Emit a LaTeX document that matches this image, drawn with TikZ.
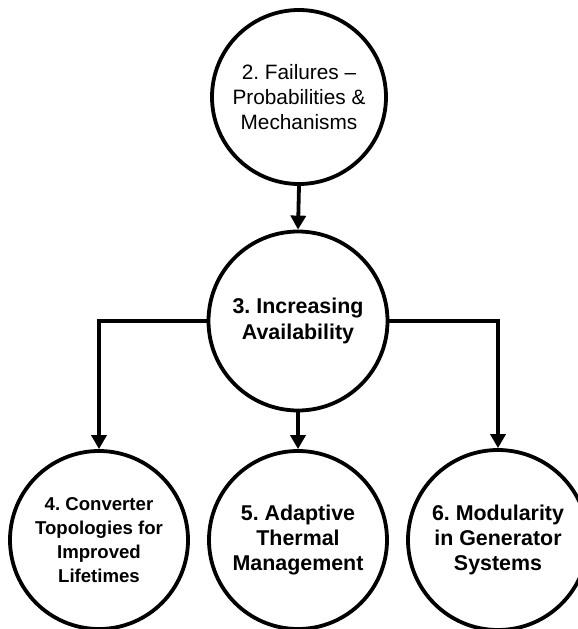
\documentclass[tikz,border=0pt]{standalone}
\usepackage{fontspec}
\setmainfont{Liberation Sans}
\usetikzlibrary{arrows.meta}
\frenchspacing

\tikzset{
  topic/.style={circle, draw=black, line width=3.8pt, fill=white,
    minimum size=#1, inner sep=0pt, align=center, text=black},
  topic/.default=176pt,
  link/.style={line width=3.8pt, draw=black,
    -{Triangle[width=15pt,length=14pt]}}
}

\begin{document}
\begin{tikzpicture}[x=1pt, y=-1pt]
  \clip (0,0) rectangle (578,629);
  \useasboundingbox (0,0) rectangle (578,629);

  % top topic
  \node[topic=174pt, font=\fontsize{20.8}{25}\selectfont] (c2) at (299,97)
    {2. Failures –\\Probabilities \&\\Mechanisms};

  % central topic
  \node[topic=179pt, font=\bfseries\fontsize{21.4}{26.5}\selectfont] (c3) at (298,321)
    {3. Increasing\\Availability};

  % bottom row
  \node[topic=178pt, font=\bfseries\fontsize{18.6}{24}\selectfont] (c4) at (99,540)
    {4. Converter\\Topologies for\\Improved\\Lifetimes};
  \node[topic=178pt, font=\bfseries\fontsize{21.4}{25}\selectfont] (c5) at (298,540)
    {5. Adaptive\\Thermal\\Management};
  \node[topic=180pt, font=\bfseries\fontsize{21.4}{25}\selectfont] (c6) at (498,540)
    {6. Modularity\\in Generator\\Systems};

  % connectors
  \draw[link] (c2.south) -- (c3.north);
  \draw[link] (c3.south) -- (c5.north);
  \draw[link] (c3.west) -| (c4.north);
  \draw[link] (c3.east) -| (c6.north);
\end{tikzpicture}
\end{document}
